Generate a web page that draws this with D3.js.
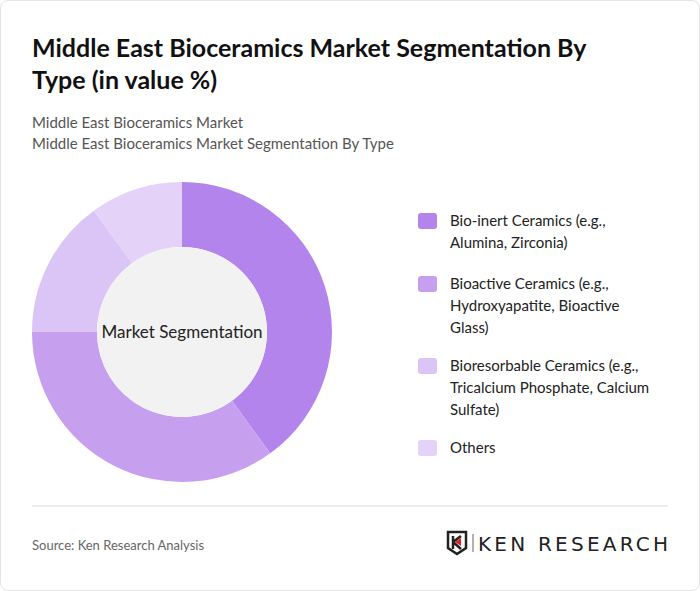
<!DOCTYPE html>
<meta charset="utf-8">
<style>
    body { margin: 0; background: #fff; font-family: Lato, sans-serif; }
    .card { position: absolute; left: 0; top: 0; width: 698px; height: 589px; border: 1px solid #e4e4e4; border-radius: 8px; }
</style>
<body>
<div class="card"></div>
<script src="https://cdn.jsdelivr.net/npm/d3@7"></script>
<script>
    var categories = [
            ['Bio-inert Ceramics (e.g.,', 'Alumina, Zirconia)'],
            ['Bioactive Ceramics (e.g.,', 'Hydroxyapatite, Bioactive', 'Glass)'],
            ['Bioresorbable Ceramics (e.g.,', 'Tricalcium Phosphate, Calcium', 'Sulfate)'],
            ['Others']
        ],
        values = [40, 35, 15, 10],
        colors = ['#b284ec', '#c6a0ef', '#dbc4f6', '#e4d2f8'];

    var svg = d3.select('body').append('svg')
        .attr('width', 700).attr('height', 591)
        .style('position', 'absolute').style('left', 0).style('top', 0);

    svg.append('text').attr('x', 32).attr('y', 57)
        .attr('font-size', 25).attr('font-weight', 700).attr('fill', '#111')
        .text('Middle East Bioceramics Market Segmentation By');
    svg.append('text').attr('x', 32).attr('y', 89)
        .attr('font-size', 25).attr('font-weight', 700).attr('fill', '#111')
        .text('Type (in value %)');
    svg.append('text').attr('x', 32).attr('y', 128)
        .attr('font-size', 15).attr('fill', '#555').text('Middle East Bioceramics Market');
    svg.append('text').attr('x', 32).attr('y', 149)
        .attr('font-size', 15).attr('fill', '#555').text('Middle East Bioceramics Market Segmentation By Type');

    var cx = 182, cy = 332, outer = 150, inner = 85;
    var pie = d3.pie().sort(null)(values);
    var arc = d3.arc().innerRadius(inner).outerRadius(outer);
    var g = svg.append('g').attr('transform', 'translate(' + cx + ',' + cy + ')');
    g.selectAll('path').data(pie).enter().append('path')
        .attr('d', arc)
        .attr('fill', function(d, i) { return colors[i]; });
    g.append('circle').attr('r', inner).attr('fill', '#f2f2f2');
    g.append('text').attr('text-anchor', 'middle').attr('dy', 6)
        .attr('font-size', 17).attr('fill', '#222').text('Market Segmentation');

    var ys = [220, 283, 365, 447];
    var leg = svg.selectAll('g.leg').data(categories).enter().append('g')
        .attr('transform', function(d, i) { return 'translate(418,' + ys[i] + ')'; });
    leg.append('rect').attr('x', 0).attr('y', -7).attr('width', 19).attr('height', 16)
        .attr('rx', 3).attr('fill', function(d, i) { return colors[i]; });
    leg.each(function(lines) {
        var t = d3.select(this).append('text').attr('x', 32).attr('y', 6)
            .attr('font-size', 15).attr('fill', '#222');
        lines.forEach(function(l, j) {
            t.append('tspan').attr('x', 32).attr('dy', j ? 22 : 0).text(l);
        });
    });

    svg.append('line').attr('x1', 32).attr('x2', 668).attr('y1', 506).attr('y2', 506)
        .attr('stroke', '#ddd');
    svg.append('text').attr('x', 32).attr('y', 550)
        .attr('font-size', 13).attr('fill', '#666').text('Source: Ken Research Analysis');

    var logo = svg.append('g').attr('transform', 'translate(448,532)');
    logo.append('path').attr('d', 'M0,0 H18 V16 L9,22 L0,16 Z')
        .attr('fill', 'none').attr('stroke', '#222').attr('stroke-width', 2.5);
    logo.append('path').attr('d', 'M5,4 V17 M5,10 L13,4 M5,10 L13,17')
        .attr('stroke', '#222').attr('stroke-width', 2.5).attr('fill', 'none');
    logo.append('path').attr('d', 'M7,10 L13,6 V14 Z').attr('fill', '#d22');
    logo.append('line').attr('x1', 25).attr('x2', 25).attr('y1', 2).attr('y2', 20)
        .attr('stroke', '#666');
    logo.append('text').attr('x', 30).attr('y', 19).attr('font-size', 20)
        .attr('font-family', 'DejaVu Sans, sans-serif').attr('textLength', 190)
        .attr('fill', '#222').text('KEN RESEARCH');
</script>
</body>
